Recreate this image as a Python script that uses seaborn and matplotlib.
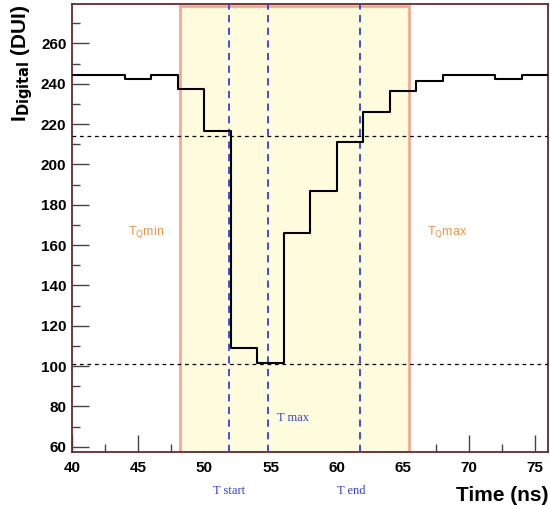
import matplotlib
matplotlib.use("Agg")
import matplotlib.pyplot as plt
from matplotlib.patches import Rectangle
from matplotlib.ticker import MultipleLocator
import numpy as np
import seaborn as sns

# data
bin_edges = [40, 42, 44, 46, 48, 50, 52, 54, 56, 58, 60, 62, 64, 66, 68, 70, 72, 74, 76]
adc_values = [244.5, 244.5, 242.5, 244.5, 237.5, 216.5, 109, 101.5, 166, 187,
              211, 226, 236.5, 241.5, 244.5, 244.5, 242.5, 244.5]
thresholds = [214, 101]
t_marks = [51.85, 54.8, 61.8]
t_names = ["T start", "T max", "T end"]
tq_window = [48.15, 65.45]

sns.set_style("white")
plt.rcParams['font.family'] = ['Liberation Sans', 'DejaVu Sans']

fig = plt.figure(figsize=(5.5, 5.05), dpi=100)
ax = fig.add_axes([0.131, 0.104, 0.866, 0.888])

ymin, ymax = 57.2, 279.5
ax.set_xlim(40, 76)
ax.set_ylim(ymin, ymax)

# Tq window
ax.add_patch(Rectangle((tq_window[0], ymin), tq_window[1] - tq_window[0], 278.3 - ymin,
                       facecolor="#fefcdc", edgecolor="#f6a98c", lw=2, zorder=1))

centers = [(a + b) / 2 for a, b in zip(bin_edges[:-1], bin_edges[1:])]
sns.histplot(x=centers, weights=adc_values, bins=bin_edges, element="step", fill=False,
             color="black", lw=1.5, ax=ax, zorder=4)

for h in thresholds:
    ax.axhline(h, color="black", ls=(0, (3, 3)), lw=0.9, zorder=3)
for t in t_marks:
    ax.axvline(t, color="#2f3fe8", ls=(0, (4, 3)), lw=1.3, zorder=3)

ax.text(44.2, 166.5, "T$_{\\mathrm{Q}}$min", color="#f39242", fontsize=9, va="center")
ax.text(66.8, 166.5, "T$_{\\mathrm{Q}}$max", color="#f39242", fontsize=9, va="center")
ax.text(55.5, 74.5, t_names[1], color="#2f3fe8", fontsize=9, family="Liberation Serif", va="center")
ax.text(t_marks[0], -0.085, t_names[0], color="#2f3fe8", fontsize=9, family="Liberation Serif",
        ha="center", va="center", transform=ax.get_xaxis_transform())
ax.text(61.1, -0.085, t_names[2], color="#2f3fe8", fontsize=9, family="Liberation Serif",
        ha="center", va="center", transform=ax.get_xaxis_transform())

ax.xaxis.set_major_locator(MultipleLocator(5))
ax.xaxis.set_minor_locator(MultipleLocator(2.5))
ax.yaxis.set_major_locator(MultipleLocator(20))
ax.yaxis.set_minor_locator(MultipleLocator(10))
ax.tick_params(which="both", bottom=True, left=True, top=False, right=False)
ax.tick_params(which="major", direction="in", length=12, width=1, color="#444444",
               labelsize=11, labelcolor="black", pad=4)
ax.tick_params(which="minor", direction="in", length=6, width=1, color="#444444")
ax.tick_params(axis="x", pad=6)
for lab in ax.get_xticklabels() + ax.get_yticklabels():
    lab.set_fontweight("bold")

for s in ax.spines.values():
    s.set_color("#6a2830")
    s.set_linewidth(1.3)

ax.set_xlabel("Time (ns)", fontsize=15, fontweight="bold", loc="right", labelpad=8, color="black")
ax.set_ylabel("I$_{\\mathbf{Digital}}$ (DUI)", fontsize=15, fontweight="bold", loc="top",
              labelpad=4, color="black")

fig.savefig("out.png", dpi=100)
